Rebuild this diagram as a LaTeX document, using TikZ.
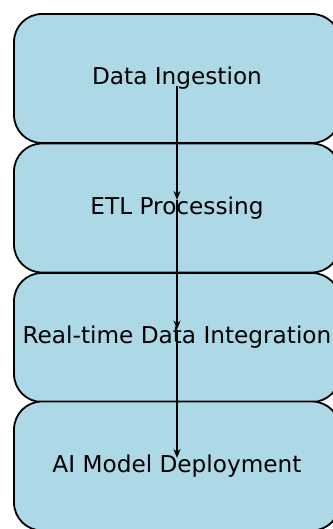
\documentclass[tikz,border=0pt]{standalone}
\usepackage{fontspec}
\setmainfont{DejaVu Sans}
\usetikzlibrary{arrows.meta}

\begin{document}
\begin{tikzpicture}[x=1pt, y=-1pt,
    stage/.style={draw=black, line width=1.8pt, fill=stage blue,
                  rounded corners=28pt, minimum width=326pt, minimum height=129pt,
                  inner sep=0pt, font=\fontsize{23.2}{28}\selectfont},
    flow/.style={-{Stealth[length=9pt, width=7pt]}, line width=1.6pt,
                 shorten >=8pt}]

\definecolor{stage blue}{HTML}{ADD8E6}

 \useasboundingbox (0,0) rectangle (332,529);

 \node[stage] (ingest)  at (177,78.5)  {Data Ingestion};
 \node[stage] (etl)     at (177,208)   {ETL Processing};
 \node[stage] (realtime) at (177,337.5) {Real-time Data Integration};
 \node[stage] (deploy)  at (177,466)   {AI Model Deployment};

 % the chain runs on unbroken through the middle labels
 \draw[flow, shorten <=8pt] (ingest.center) -- (etl.center);
 \draw[flow, shorten <=-8pt] (etl.center) -- (realtime.center);
 \draw[flow, shorten <=-8pt] (realtime.center) -- (deploy.center);
\end{tikzpicture}
\end{document}
